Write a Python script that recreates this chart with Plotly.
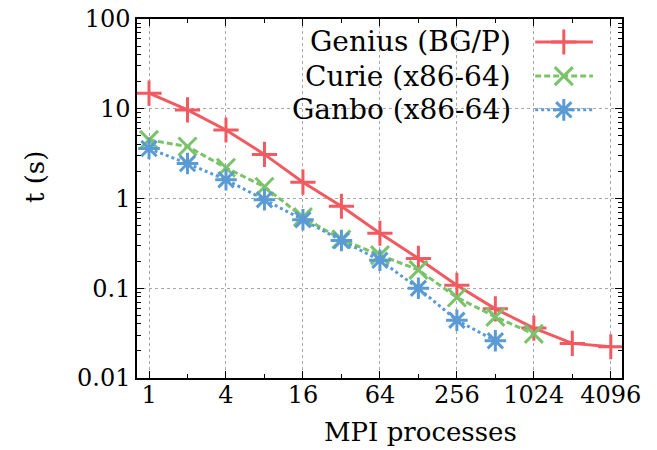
import plotly.graph_objects as go

# ---- data ----
procs_genius = [1, 2, 4, 8, 16, 32, 64, 128, 256, 512, 1024, 2048, 4096]
t_genius = [14.9, 9.7, 5.8, 3.1, 1.52, 0.82, 0.41, 0.215, 0.108, 0.059, 0.036, 0.0243, 0.0223]

procs_curie = [1, 2, 4, 8, 16, 32, 64, 128, 256, 512, 1024]
t_curie = [4.5, 3.8, 2.2, 1.35, 0.62, 0.35, 0.234, 0.160, 0.079, 0.048, 0.031]

procs_ganbo = [1, 2, 4, 8, 16, 32, 64, 128, 256, 512]
t_ganbo = [3.6, 2.45, 1.62, 0.97, 0.58, 0.34, 0.205, 0.100, 0.044, 0.026]

series_names = ["Genius (BG/P)", "Curie (x86-64)", "Ganbo (x86-64)"]
colors = ["#F15A60", "#7AC36A", "#5A9BD4"]

x_tickvals = [1, 4, 16, 64, 256, 1024, 4096]
x_ticktext = ["1", "4", "16", "64", "256", "1024", "4096"]
x_minor = [2, 8, 32, 128, 512, 2048]
y_tickvals = [0.01, 0.1, 1, 10, 100]
y_ticktext = ["0.01", "0.1", "1", "10", "100"]
y_minor = [m * 10 ** e for e in (-2, -1, 0, 1) for m in range(2, 10)]

FONT = "DejaVu Serif"
FS_TICK = 24
FS_TITLE = 26
FS_LEG = 28

fig = go.Figure()

styles = [
    dict(dash="solid", symbol="cross-thin-open", size=18),
    dict(dash="6px,3px", symbol="x-thin-open", size=18),
    dict(dash="3px,3px", symbol="asterisk-open", size=18),
]
data = [(procs_genius, t_genius), (procs_curie, t_curie), (procs_ganbo, t_ganbo)]

for (xs, ys), name, col, st in zip(data, series_names, colors, styles):
    fig.add_trace(go.Scatter(
        x=xs, y=ys, mode="lines+markers", name=name, showlegend=False,
        line=dict(color=col, width=3, dash=st["dash"]),
        marker=dict(symbol=st["symbol"], size=st["size"], color=col,
                    line=dict(color=col, width=3)),
        xaxis="x", yaxis="y",
    ))

# custom legend (text right, sample on the right) on an overlay axis
leg_y = [0.936, 0.841, 0.747]
for name, col, st, ly in zip(series_names, colors, styles, leg_y):
    fig.add_trace(go.Scatter(
        x=[0.821, 0.880, 0.940], y=[ly, ly, ly], mode="lines",
        line=dict(color=col, width=3, dash=st["dash"]),
        xaxis="x2", yaxis="y2", showlegend=False, hoverinfo="skip",
    ))
    fig.add_trace(go.Scatter(
        x=[0.880], y=[ly], mode="markers",
        marker=dict(symbol=st["symbol"], size=st["size"], color=col,
                    line=dict(color=col, width=3)),
        xaxis="x2", yaxis="y2", showlegend=False, hoverinfo="skip",
    ))
    fig.add_annotation(
        x=0.775, y=ly, xref="x2", yref="y2", text=name, showarrow=False,
        xanchor="right", yanchor="middle",
        font=dict(family=FONT, size=FS_LEG, color="black"),
    )

# opaque legend box covering grid
fig.add_shape(type="rect", xref="paper", yref="paper",
              x0=0.0, x1=0.962, y0=0.697, y1=1.0,
              fillcolor="white", line=dict(width=0), layer="between")

axis_common = dict(
    showline=True, linecolor="black", linewidth=1.5, mirror="ticks",
    ticks="inside", ticklen=7, tickwidth=1, tickcolor="black",
    showgrid=True, gridcolor="#a8a8a8", gridwidth=1, griddash="dot",
    zeroline=False, automargin=False,
    tickfont=dict(family=FONT, size=FS_TICK, color="black"),
)

fig.update_layout(
    width=657, height=450,
    margin=dict(l=137, r=35, t=19, b=72),
    plot_bgcolor="white", paper_bgcolor="white",
    xaxis=dict(
        type="log", range=[-0.094, 3.70],
        tickmode="array", tickvals=x_tickvals, ticktext=x_ticktext,
        ticklabelstandoff=-6,
        minor=dict(tickmode="array", tickvals=x_minor, ticks="inside",
                   ticklen=4, tickcolor="black", showgrid=False),
        **axis_common,
    ),
    yaxis=dict(
        type="log", range=[-2, 2],
        tickmode="array", tickvals=y_tickvals, ticktext=y_ticktext,
        minor=dict(tickmode="array", tickvals=y_minor, ticks="inside",
                   ticklen=4, tickcolor="black", showgrid=False),
        **axis_common,
    ),
    xaxis2=dict(overlaying="x", range=[0, 1], visible=False, fixedrange=True),
    yaxis2=dict(overlaying="y", range=[0, 1], visible=False, fixedrange=True),
    showlegend=False,
)

fig.add_annotation(text="t (s)", xref="paper", yref="paper",
                   x=(35 - 137) / 485, y=(378 - 177) / 359, textangle=-90,
                   showarrow=False, xanchor="center", yanchor="middle",
                   font=dict(family=FONT, size=FS_TITLE, color="black"))
fig.add_annotation(text="MPI processes", xref="paper", yref="paper",
                   x=(420 - 137) / 485, y=(378 - 432) / 359,
                   showarrow=False, xanchor="center", yanchor="middle",
                   font=dict(family=FONT, size=FS_TITLE, color="black"))

fig.write_html("out.html")
